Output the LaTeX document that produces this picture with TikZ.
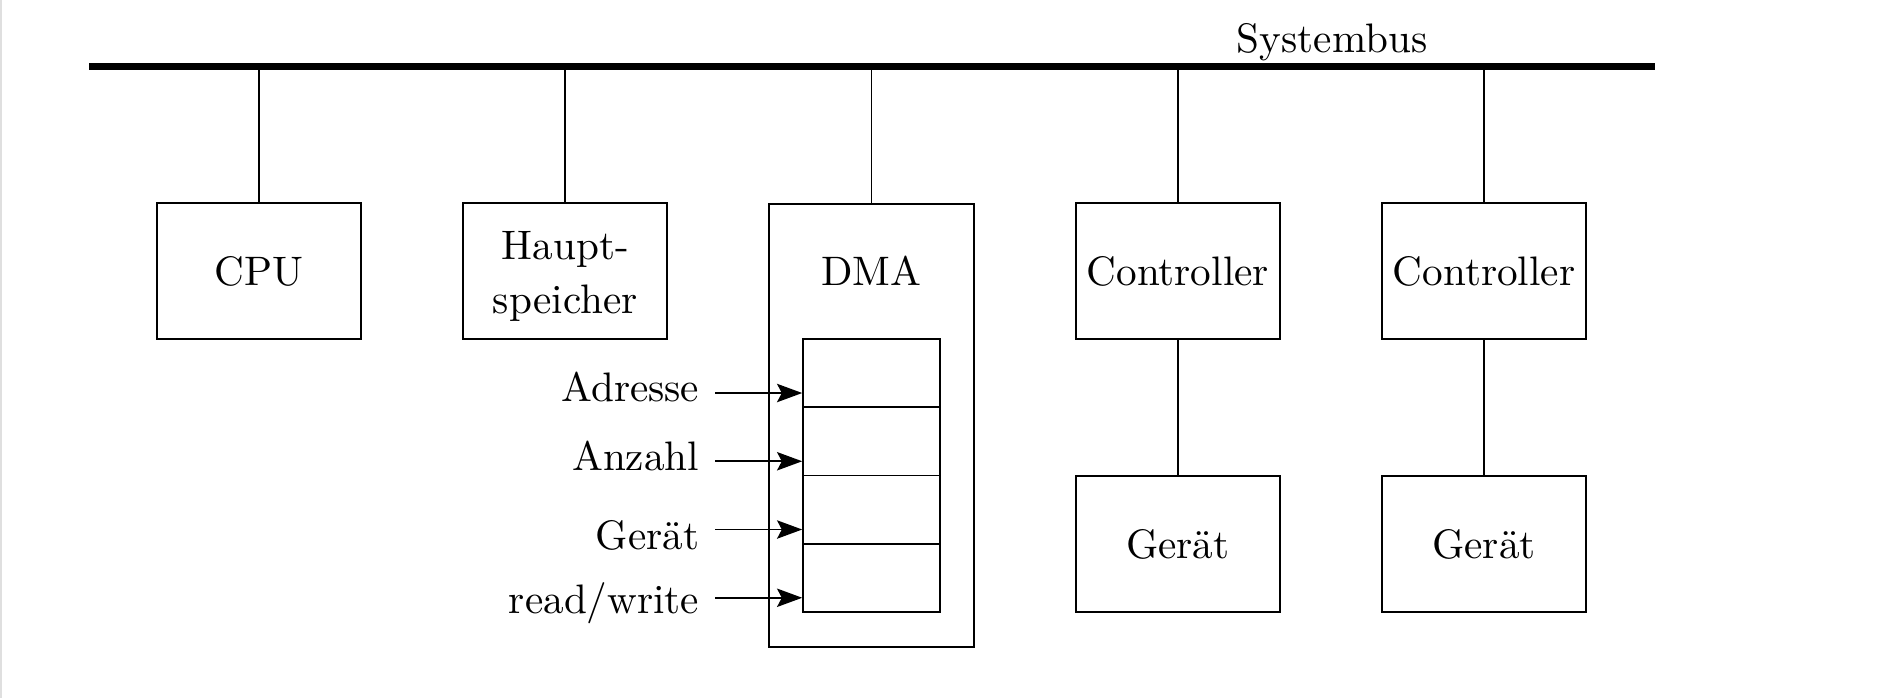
\documentclass[tikz,border=0pt]{standalone}
\usetikzlibrary{arrows.meta}
\begin{document}
\begin{tikzpicture}[x=0.25pt, y=-0.25pt,
  line width=0.4pt,
  every node/.style={font=\fontsize{10.3}{12.4}\selectfont},
  box/.style={draw, line width=0.4pt, minimum width=51pt, minimum height=34pt, inner sep=0pt, align=center},
  regbox/.style={draw, line width=0.4pt, minimum width=34.25pt, minimum height=17.06pt, inner sep=0pt},
  lbl/.style={inner sep=0pt, anchor=base east},
  bus/.style={line width=1.8pt},
  feed/.style={-{Stealth[length=6.3pt,width=4.6pt,inset=1.2pt]}, line width=0.4pt}]
\useasboundingbox (0,0) rectangle (1890,698);
\draw[gray!25, line width=0.4pt] (1,0) -- (1,698);

% bus
\coordinate (bl) at (89,66.5);
\coordinate (br) at (1655,66.5);
\draw[bus] (bl) -- (br);
\node[inner sep=0pt, anchor=base] (sb) at (1332,52) {Systembus};

% top row boxes
\node[box] (cpu) at (259,271) {CPU};
\node[box] (hs) at (565.25,271) {};
\node[inner sep=0pt, align=center, font=\fontsize{10.3}{13.5}\selectfont] (hstxt) at (565.25,276) {Haupt-\\speicher};
\node[draw, line width=0.4pt, minimum width=51.25pt, minimum height=110.75pt, inner sep=0pt, anchor=north] (dma) at (871.5,203) {};
\node[inner sep=0pt] (dmatxt) at (871.5,271) {DMA};
\node[box] (c1) at (1177.75,271) {Controller};
\node[box] (c2) at (1484,271) {Controller};

% devices
\node[box] (g1) at (1177.75,544) {Ger\"at};
\node[box] (g2) at (1484,544) {Ger\"at};

% register
\node[regbox] (r1) at (871.5,373.1) {};
\node[regbox] (r2) at (871.5,441.4) {};
\node[regbox] (r3) at (871.5,509.6) {};
\node[regbox] (r4) at (871.5,577.9) {};

% connectors to bus
\foreach \n in {cpu,hs,dma,c1,c2}{
  \draw (\n.north) -- (\n.north |- bl);
}
\draw (c1.south) -- (g1.north);
\draw (c2.south) -- (g2.north);

% labels and arrows
\node[lbl] (l1) at (700,401.7) {Adresse};
\node[lbl] (l2) at (700,470) {Anzahl};
\node[lbl] (l3) at (700,549) {Ger\"at};
\node[lbl] (l4) at (700,613) {read/write};
\coordinate (a1) at (715,393);
\coordinate (a2) at (715,461.25);
\coordinate (a3) at (715,529.5);
\coordinate (a4) at (715,597.75);
\draw[feed] (a1) -- (r1.west |- a1);
\draw[feed] (a2) -- (r2.west |- a2);
\draw[feed] (a3) -- (r3.west |- a3);
\draw[feed] (a4) -- (r4.west |- a4);
\end{tikzpicture}
\end{document}
